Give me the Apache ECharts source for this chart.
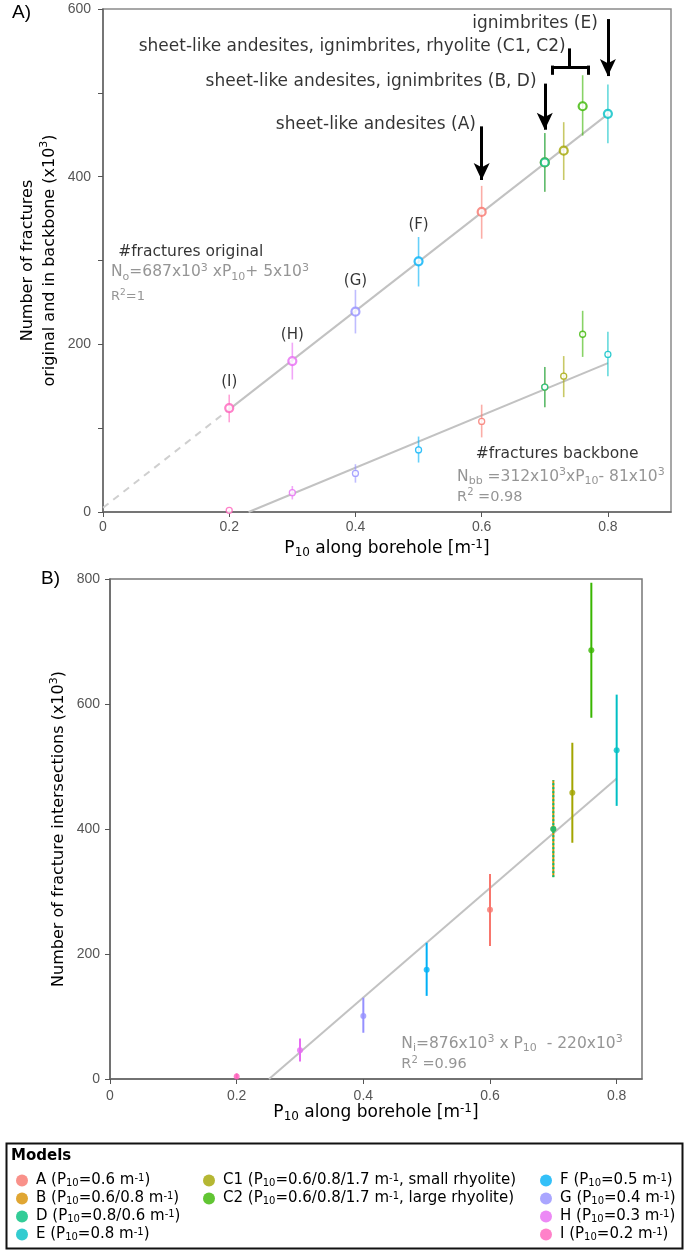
<!DOCTYPE html>
<html><head><meta charset="utf-8">
<script src="https://cdn.jsdelivr.net/npm/echarts@6/dist/echarts.min.js"></script>
<style>html,body{margin:0;padding:0;background:#fff}#c{width:685px;height:1252px}</style>
</head><body><div id="c"></div>
<script>
// ---------- data ----------
const models = ['A','B','C1','C2','D','E','F','G','H','I'];
const p10 = [0.6, 0.7, 0.73, 0.76, 0.7, 0.8, 0.5, 0.4, 0.3, 0.2];
const colors = ['#F8766D','#D89000','#A3A500','#39B600','#00BF7D','#00BFC4','#00B0F6','#9590FF','#E76BF3','#FF62BC'];
// Panel A: number of fractures, original network (x10^3)
const origMean = [358, 417, 431, 484, 417, 475, 299, 239, 180, 124];
const origLow  = [326, 382, 396, 449, 382, 440, 269, 213, 158, 107];
const origHigh = [389, 452, 465, 521, 452, 510, 328, 265, 202, 140];
// Panel A: number of fractures in backbone (x10^3)
const bbMean = [108, 149, 162, 212, 149, 188, 74, 46, 23, 2];
const bbLow  = [89, 125, 137, 185, 125, 162, 59, 35, 15, 0];
const bbHigh = [128, 173, 186, 240, 173, 215, 90, 57, 31, 3];
// Panel B: number of fracture intersections (x10^3)
const intMean = [271, 400, 458, 686, 400, 526, 175, 101, 46, 4];
const intLow  = [213, 323, 378, 578, 323, 437, 133, 74, 28, 0];
const intHigh = [328, 478, 538, 794, 478, 615, 218, 130, 65, 9];
// fitted lines as drawn (slope, intercept)
const fitOrig = [587, 5];
const fitBB = [312, -72];
const fitInt = [876, -220];
// legend texts
const legendP10 = ['0.6','0.6/0.8','0.6/0.8/1.7','0.6/0.8/1.7','0.8/0.6','0.8','0.5','0.4','0.3','0.2'];
const legendExtra = ['','',', small rhyolite',', large rhyolite','','','','','',''];
const legendCols = [['A','B','D','E'],['C1','C2'],['F','G','H','I']];
// annotation texts (panel A)
const annoText = ['ignimbrites (E)','sheet-like andesites, ignimbrites, rhyolite (C1, C2)','sheet-like andesites, ignimbrites (B, D)','sheet-like andesites (A)'];
const annoX = [0.784, 0.733, 0.687, 0.591];
const annoY = [583, 555, 514, 462];
const arrowX = [0.6, 0.7, 0.8];
const arrowFrom = [460, 511, 588];
const arrowTip = [396, 456, 520];
const pointLabels = ['(I)','(H)','(G)','(F)'];
const pointLabelX = [0.2, 0.3, 0.4, 0.5];
const pointLabelY = [155, 211, 276, 342];

// ---------- styling helpers ----------
const FONT = 'DejaVu Sans';
const TFONT = 'Liberation Sans';
function rs(size, color) {
  const s = Math.round(size * 0.68);
  const lh = Math.round(size * 0.75);
  return {
    sub: {fontFamily: FONT, fontSize: s, color, verticalAlign: 'bottom', lineHeight: lh},
    sup: {fontFamily: FONT, fontSize: s, color, verticalAlign: 'top', lineHeight: lh}
  };
}
const lineF = (f, x) => f[0] * x + f[1];
const root = f => -f[1] / f[0];

const chart = echarts.init(document.getElementById('c'));

const series = [];
// regression lines
function regLine(gi, x0, x1, f, dashed) {
  series.push({type: 'line', xAxisIndex: gi, yAxisIndex: gi, silent: true, symbol: 'none', z: 1,
    data: [[x0, lineF(f, x0)], [x1, lineF(f, x1)]],
    lineStyle: {color: dashed ? '#cfcfcf' : '#c2c2c2', width: 2, type: dashed ? [7, 6] : 'solid'}});
}
regLine(0, 0, 0.2, fitOrig, true);
regLine(0, 0.2, 0.8, fitOrig, false);
regLine(0, root(fitBB), 0.8, fitBB, false);
regLine(1, root(fitInt), 0.8, fitInt, false);

// error bars
function errSeries(gi, lows, highs, opacity, width, dashModel) {
  series.push({type: 'custom', xAxisIndex: gi, yAxisIndex: gi, silent: true, z: 2,
    data: models.map((m, i) => [p10[i], lows[i], highs[i], i]),
    encode: {x: 0, y: [1, 2]},
    renderItem: (params, api) => {
      const x = api.value(0);
      const a = api.coord([x, api.value(1)]);
      const b = api.coord([x, api.value(2)]);
      const i = api.value(3);
      return {type: 'line', shape: {x1: a[0], y1: a[1], x2: b[0], y2: b[1]},
        style: {stroke: colors[i], lineWidth: width, opacity, lineDash: models[i] === dashModel ? [2, 2] : null}};
    }});
}
errSeries(0, origLow, origHigh, 0.6, 1.6, null);
errSeries(0, bbLow, bbHigh, 0.6, 1.6, null);
errSeries(1, intLow, intHigh, 1, 2, 'D');

// points
models.forEach((m, i) => {
  series.push({type: 'scatter', name: m, xAxisIndex: 0, yAxisIndex: 0, z: 3, symbol: 'circle', symbolSize: 8,
    itemStyle: {color: '#fff', borderColor: colors[i], borderWidth: 2.2}, data: [[p10[i], origMean[i]]]});
  series.push({type: 'scatter', name: m, xAxisIndex: 0, yAxisIndex: 0, z: 3, symbol: 'circle', symbolSize: 6,
    itemStyle: {color: '#fff', borderColor: colors[i], borderWidth: 1.3}, data: [[p10[i], bbMean[i]]]});
  series.push({type: 'scatter', name: m, xAxisIndex: 1, yAxisIndex: 1, z: 3, symbol: 'circle', symbolSize: 6,
    itemStyle: {color: colors[i]}, data: [[p10[i], intMean[i]]]});
});

// text annotations
function textSeries(gi, items, extra) {
  series.push(Object.assign({type: 'scatter', xAxisIndex: gi, yAxisIndex: gi, silent: true, symbolSize: 0, z: 5,
    data: items.map(it => {
      const size = it.size || 15, color = it.color || '#000';
      return {value: [it.x, it.y], label: {show: true, position: 'inside', formatter: it.text,
        align: it.align || 'left', verticalAlign: 'middle', fontFamily: FONT, fontSize: size,
        color, textBorderWidth: 0, lineHeight: Math.round(size * 1.3), rich: rs(size, color)}};
    })}, extra || {}));
}
const annoItems = annoText.map((t, i) => ({x: annoX[i], y: annoY[i], text: t, align: 'right', size: 17}));
const arrowLines = arrowX.map((x, i) => [{coord: [x, arrowFrom[i]]}, {coord: [x, arrowTip[i]], symbol: 'arrow'}]);
const bracketLines = [
  [{coord: [0.712, 531]}, {coord: [0.7696, 531]}],
  [{coord: [0.712, 532.5]}, {coord: [0.712, 521.5]}],
  [{coord: [0.7696, 532.5]}, {coord: [0.7696, 521.5]}],
  [{coord: [0.7395, 531]}, {coord: [0.7395, 553]}]
];
textSeries(0, annoItems, {markLine: {silent: true, animation: false, symbol: ['none', 'none'], symbolSize: [12, 17],
  lineStyle: {color: '#000', width: 3, type: 'solid'}, label: {show: false}, emphasis: {disabled: true},
  data: arrowLines.concat(bracketLines)}});
textSeries(0, pointLabels.map((t, i) => ({x: pointLabelX[i], y: pointLabelY[i], text: t, align: 'center', size: 15})));
const G = '#7a7a7a';
textSeries(0, [
  {x: 0.024, y: 310, text: '#fractures original', size: 15.5},
  {x: 0.0127, y: 286, text: 'N{sub|o}=687x10{sup|3} xP{sub|10}+ 5x10{sup|3}', color: G, size: 15.5},
  {x: 0.0127, y: 257, text: 'R{sup|2}=1', color: G, size: 13},
  {x: 0.5907, y: 69, text: '#fractures backbone', size: 15.5},
  {x: 0.561, y: 42, text: 'N{sub|bb} =312x10{sup|3}xP{sub|10}- 81x10{sup|3}', color: G, size: 15.5},
  {x: 0.561, y: 18, text: 'R{sup|2} =0.98', color: G, size: 14.5}
]);
textSeries(1, [
  {x: 0.46, y: 56, text: 'N{sub|i}=876x10{sup|3} x P{sub|10}  - 220x10{sup|3}', color: G, size: 15.5},
  {x: 0.46, y: 23, text: 'R{sup|2} =0.96', color: G, size: 14.5}
]);

const xName = 'P{sub|10} along borehole [m{sup|-1}]';
const axisLineStyle = {color: '#666', width: 1.5};
const labelStyle = {fontFamily: TFONT, fontSize: 14, color: '#555'};
const nameStyle = (lh) => ({fontFamily: FONT, fontSize: 17, color: '#000', lineHeight: lh, rich: rs(17, '#000')});

const option = {
  animation: false,
  backgroundColor: '#fff',
  grid: [
    {left: 103, top: 9, width: 568, height: 503, show: true, borderColor: '#8a8a8a', borderWidth: 1.5},
    {left: 110, top: 579, width: 532, height: 500, show: true, borderColor: '#777', borderWidth: 1.5}
  ],
  xAxis: [
    {gridIndex: 0, type: 'value', min: 0, max: 0.9, interval: 0.2, splitLine: {show: false},
     axisLine: {onZero: false, lineStyle: axisLineStyle}, axisTick: {length: 5, lineStyle: {color: '#555'}},
     axisLabel: Object.assign({margin: 8, showMaxLabel: false}, labelStyle),
     name: xName, nameLocation: 'middle', nameGap: 27, nameMoveOverlap: false, nameTextStyle: nameStyle(20)},
    {gridIndex: 1, type: 'value', min: 0, max: 0.84, interval: 0.2, splitLine: {show: false},
     axisLine: {onZero: false, lineStyle: axisLineStyle}, axisTick: {length: 5, lineStyle: {color: '#555'}},
     axisLabel: Object.assign({margin: 10, showMaxLabel: false}, labelStyle),
     name: xName, nameLocation: 'middle', nameGap: 24, nameMoveOverlap: false, nameTextStyle: nameStyle(20)}
  ],
  yAxis: [
    {gridIndex: 0, type: 'value', min: 0, max: 600, interval: 100, splitLine: {show: false},
     axisLine: {show: true, lineStyle: axisLineStyle}, axisTick: {length: 5, lineStyle: {color: '#555'}},
     axisLabel: Object.assign({margin: 12, formatter: v => (v % 200 === 0 ? String(v) : '')}, labelStyle),
     name: 'Number of fractures\noriginal and in backbone (x10{sup|3})', nameLocation: 'middle', nameGap: 42,
     nameMoveOverlap: false,
     nameTextStyle: {fontFamily: FONT, fontSize: 16, color: '#000', lineHeight: 22, rich: rs(16, '#000')}},
    {gridIndex: 1, type: 'value', min: 0, max: 800, interval: 200, splitLine: {show: false},
     axisLine: {show: true, lineStyle: axisLineStyle}, axisTick: {length: 5, lineStyle: {color: '#555'}},
     axisLabel: Object.assign({margin: 10}, labelStyle),
     name: 'Number of fracture intersections (x10{sup|3})', nameLocation: 'middle', nameGap: 41,
     nameMoveOverlap: false,
     nameTextStyle: {fontFamily: FONT, fontSize: 16, color: '#000', lineHeight: 20, rich: rs(16, '#000')}}
  ],
  legend: legendCols.map((col, ci) => ({
    orient: 'vertical', left: [11, 198, 535][ci], top: 1168, itemWidth: 12, itemHeight: 12, itemGap: 3,
    selectedMode: false,
    data: col.map(m => ({name: m, icon: 'circle', itemStyle: {color: colors[models.indexOf(m)], borderWidth: 0}})),
    formatter: name => { const i = models.indexOf(name); return `${name} (P{sub|10}=${legendP10[i]} m{sup|-1}${legendExtra[i]})`; },
    textStyle: {fontFamily: FONT, fontSize: 15, color: '#000', lineHeight: 15, padding: [0, 0, 0, 3], rich: rs(15, '#000')}
  })),
  graphic: [
    {type: 'text', left: 12, top: 3, style: {text: 'A)', font: '19px "Liberation Sans"', fill: '#000'}},
    {type: 'text', left: 41, top: 569, style: {text: 'B)', font: '19px "Liberation Sans"', fill: '#000'}},
    {type: 'rect', left: 4, top: 1141, shape: {width: 676, height: 105}, style: {fill: 'none', stroke: '#111', lineWidth: 2}},
    {type: 'text', left: 11, top: 1149, style: {text: 'Models', font: 'bold 15px "DejaVu Sans"', fill: '#000'}}
  ],
  series
};
chart.setOption(option);
</script>
</body></html>
